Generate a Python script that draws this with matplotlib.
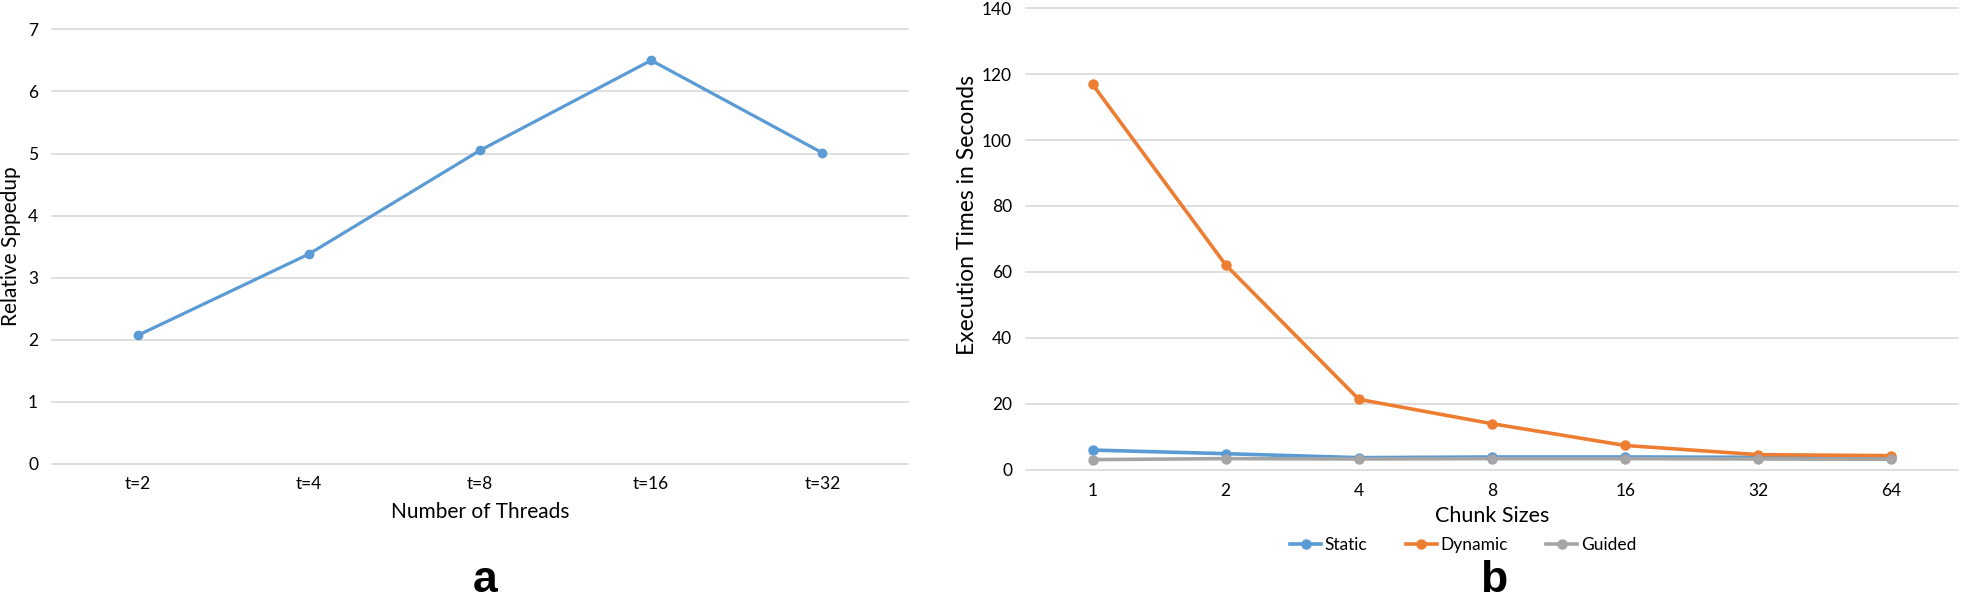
import matplotlib
matplotlib.use("Agg")
import matplotlib.pyplot as plt

# ---- data ----
threads = ["t=2", "t=4", "t=8", "t=16", "t=32"]
speedup = [2.07, 3.38, 5.05, 6.50, 5.01]

chunks = ["1", "2", "4", "8", "16", "32", "64"]
static = [5.9, 4.8, 3.6, 3.8, 3.8, 3.7, 3.5]
dynamic = [116.9, 62.1, 21.3, 13.9, 7.3, 4.5, 4.2]
guided = [3.0, 3.3, 3.2, 3.3, 3.3, 3.2, 3.1]

BLUE = "#5B9BD5"
ORANGE = "#ED7D31"
GRAY = "#A5A5A5"
GRID = "#D9D9D9"
FONT = ["Lato", "DejaVu Sans"]

plt.rcParams["font.family"] = FONT

W, H = 1961, 602
fig = plt.figure(figsize=(W / 100, H / 100), dpi=100)


def frac_box(x0, x1, ytop, ybot):
    return [x0 / W, 1 - ybot / H, (x1 - x0) / W, (ybot - ytop) / H]


def style(ax, yticks, ylim, pad_y, pad_x):
    for s in ax.spines.values():
        s.set_visible(False)
    ax.set_ylim(*ylim)
    ax.set_yticks(yticks)
    ax.tick_params(axis="both", length=0, labelsize=12.5, colors="black")
    ax.tick_params(axis="y", pad=pad_y)
    ax.tick_params(axis="x", pad=pad_x)
    ax.grid(axis="y", color=GRID, linewidth=1.2)
    ax.grid(axis="x", visible=False)
    for gl in ax.get_ygridlines():
        gl.set_clip_on(False)
    ax.set_axisbelow(True)


# ---- panel a ----
axa = fig.add_axes(frac_box(52, 908, 29.3, 464))
xa = range(len(threads))
axa.plot(xa, speedup, color=BLUE, lw=2.3, marker="o", ms=6, zorder=3)
axa.set_xticks(list(xa))
axa.set_xticklabels(threads)
axa.set_xlim(-0.5, len(threads) - 0.5)
style(axa, range(0, 8), (0, 7), 10, 8.5)
axa.set_xlabel("Number of Threads", fontsize=15, va="center")
axa.xaxis.set_label_coords(0.5, -(512 - 464) / (464 - 29.3))
axa.set_ylabel("Relative Sppedup", fontsize=15, va="center")
axa.yaxis.set_label_coords((11 - 52) / 856, 0.5)

# ---- panel b ----
axb = fig.add_axes(frac_box(1026, 1958, 8.3, 469.5))
xb = range(len(chunks))
axb.plot(xb, static, color=BLUE, lw=2.6, marker="o", ms=6.5, label="Static", zorder=3)
axb.plot(xb, dynamic, color=ORANGE, lw=2.6, marker="o", ms=6.5, label="Dynamic", zorder=3)
axb.plot(xb, guided, color=GRAY, lw=2.6, marker="o", ms=6.5, label="Guided", zorder=3)
axb.set_xticks(list(xb))
axb.set_xticklabels(chunks)
axb.set_xlim(-0.5, len(chunks) - 0.5)
style(axb, range(0, 141, 20), (0, 140), 10, 9.5)
axb.set_xlabel("Chunk Sizes", fontsize=15.5, va="center")
axb.xaxis.set_label_coords(0.5, -(516 - 469.5) / (469.5 - 8.3))
axb.set_ylabel("Execution Times in Seconds", fontsize=16.5, va="center")
axb.yaxis.set_label_coords((968 - 1026) / 932, (469.5 - 215) / (469.5 - 8.3))

handles, labels = axb.get_legend_handles_labels()
fig.legend(handles, labels, loc="center", bbox_to_anchor=(1463 / W, 1 - 545 / H),
           ncol=3, frameon=False, fontsize=12.5, handlelength=1.8,
           handletextpad=0.2, columnspacing=2.2, borderpad=0)

# ---- panel letters ----
fig.text(485 / W, 0.002, "a", fontsize=32, fontweight="bold",
         family=["Liberation Sans", "DejaVu Sans"], ha="center", va="bottom")
fig.text(1494 / W, 0.002, "b", fontsize=32, fontweight="bold",
         family=["Liberation Sans", "DejaVu Sans"], ha="center", va="bottom")

fig.savefig("out.png", dpi=100)
